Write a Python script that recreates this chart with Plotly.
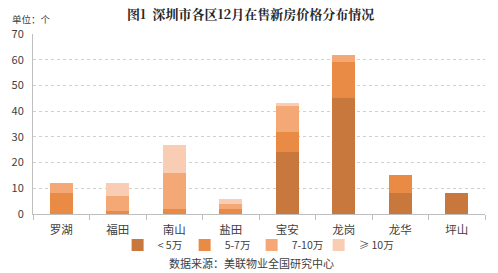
import plotly.graph_objects as go

categories = ["罗湖", "福田", "南山", "盐田", "宝安", "龙岗", "龙华", "坪山"]
series_names = ["< 5万", "5-7万", "7-10万", "≥ 10万"]
lt5 = [0, 0, 0, 0, 24, 45, 8, 8]
s5_7 = [8, 1, 2, 2, 8, 14, 7, 0]
s7_10 = [4, 6, 14, 2, 10, 3, 0, 0]
ge10 = [0, 5, 11, 2, 1, 0, 0, 0]
colors = ["#C8783C", "#E98B44", "#F3A876", "#F8CDB3"]
y_ticks = [0, 10, 20, 30, 40, 50, 60, 70]

fig = go.Figure()
for name, vals, c in zip(series_names, [lt5, s5_7, s7_10, ge10], colors):
    fig.add_trace(go.Bar(x=categories, y=vals, name=name, marker=dict(color=c, line=dict(width=0))))
# invisible spacer entry so the last legend label is not clipped
fig.add_trace(go.Scatter(x=[None], y=[None], mode="markers", name=" ",
                         marker=dict(color="rgba(0,0,0,0)", size=1, line=dict(width=0)),
                         showlegend=True, hoverinfo="skip"))

W, H = 498, 273
ML, MR, MT, MB = 31, 13, 34, 59
ph = H - MT - MB
pw = W - ML - MR
def py(p):
    return (H - MB - p) / ph
def px(p):
    return (p - ML) / pw

font_cjk = "Noto Sans CJK SC"
fig.update_layout(
    barmode="stack",
    bargap=0.6,
    width=W, height=H,
    margin=dict(l=ML, r=MR, t=MT, b=MB),
    paper_bgcolor="white", plot_bgcolor="white",
    font=dict(family=font_cjk, size=11, color="#404040"),
    showlegend=True,
    legend=dict(orientation="h", x=px(116), xanchor="left", y=py(245), yanchor="middle",
                font=dict(size=10.5, color="#404040"), traceorder="normal",
                bgcolor="rgba(0,0,0,0)", borderwidth=0,
                itemwidth=30, entrywidth=22, entrywidthmode="pixels", tracegroupgap=0),
    xaxis=dict(showline=True, linecolor="#BFBFBF", linewidth=1, ticks="outside",
               tickson="boundaries", ticklen=5, tickcolor="#BFBFBF",
               tickfont=dict(size=11.5, color="#404040"), showgrid=False,
               ticklabelstandoff=5),
    yaxis=dict(range=[0, 70], tickvals=y_ticks, showline=True, linecolor="#BFBFBF",
               linewidth=1, showgrid=True, gridcolor="#D0D0D0", griddash="dot",
               gridwidth=1, zeroline=False, tickfont=dict(size=11, color="#404040"),
               ticks="", ticklabelstandoff=6),
    annotations=[
        dict(text="<b>图1  深圳市各区12月在售新房价格分布情况</b>", x=px(249), xref="paper",
             y=py(14), yref="paper", xanchor="center", yanchor="middle", showarrow=False,
             font=dict(size=13, color="#262626", family="Noto Serif CJK SC, Noto Sans CJK SC")),
        dict(text="单位：个", x=px(8), xref="paper", y=py(19), yref="paper",
             xanchor="left", yanchor="middle", showarrow=False,
             font=dict(size=9.5, color="#404040")),
        dict(text="数据来源：美联物业全国研究中心", x=px(250), xref="paper", y=py(263),
             yref="paper", xanchor="center", yanchor="middle", showarrow=False,
             font=dict(size=11, color="#404040")),
    ],
)

fig.write_html("out.html")
